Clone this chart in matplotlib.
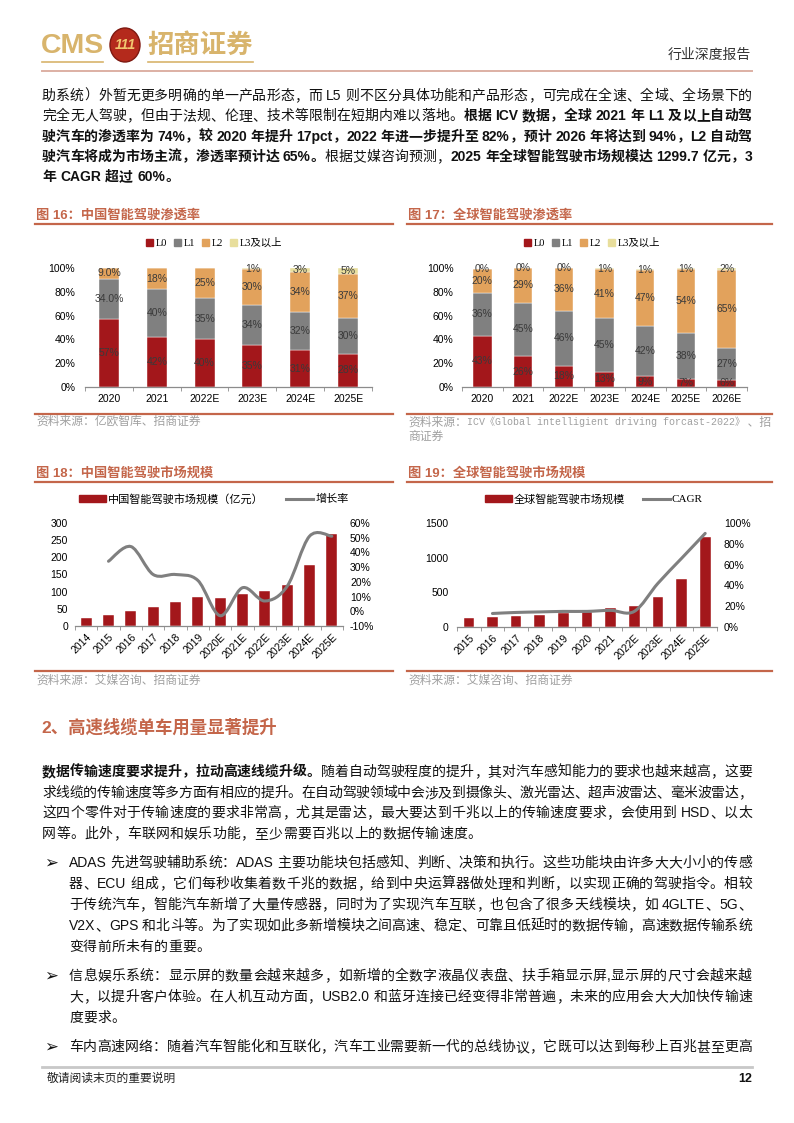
import re
import numpy as np
import matplotlib
matplotlib.use('Agg')
import matplotlib.pyplot as plt
from matplotlib.path import Path
from matplotlib.patches import PathPatch, Ellipse, Rectangle
from matplotlib.lines import Line2D

plt.rcParams['font.family'] = ['Liberation Sans', 'Noto Sans CJK SC', 'DejaVu Sans']

# ---- data ----
cn_years = ['2020', '2021', '2022E', '2023E', '2024E', '2025E']
cn_L0 = [57, 42, 40, 35, 31, 28]
cn_L1 = [34, 40, 35, 34, 32, 30]
cn_L2 = [9, 18, 25, 30, 34, 37]
cn_L3 = [0, 0, 0, 1, 3, 5]
cn_lab_L0 = ['57%', '42%', '40%', '35%', '31%', '28%']
cn_lab_L1 = ['34.0%', '40%', '35%', '34%', '32%', '30%']
cn_lab_L2 = ['9.0%', '18%', '25%', '30%', '34%', '37%']
cn_lab_L3 = ['', '', '', '1%', '3%', '5%']

gl_years = ['2020', '2021', '2022E', '2023E', '2024E', '2025E', '2026E']
gl_L0 = [43, 26, 18, 13, 9, 7, 6]
gl_L1 = [36, 45, 46, 45, 42, 38, 27]
gl_L2 = [20, 29, 36, 41, 47, 54, 65]
gl_L3 = [0, 0, 0, 1, 1, 1, 2]

cm_years = ['2014', '2015', '2016', '2017', '2018', '2019', '2020E', '2021E',
            '2022E', '2023E', '2024E', '2025E']
cm_size = [22, 31, 44, 56, 70, 85, 82, 94, 101, 119, 177, 268]
cm_growth = [None, 34, 44, 25, 25, 21, -3, 16, 7, 17, 51, 51]

gm_years = ['2015', '2016', '2017', '2018', '2019', '2020', '2021', '2022E',
            '2023E', '2024E', '2025E']
gm_size = [126, 140, 160, 180, 203, 218, 271, 310, 430, 692, 1299.7]
gm_cagr = [None, 13, 14, 14.5, 15, 15, 16, 15, 42, 66, 90]

RED = '#A3171B'
GRAY = '#808080'
ORANGE = '#E2A25C'
YELLOW = '#E8DE9C'
TERRA = '#C4664A'
GOLD = '#D8B46C'

W, H = 794, 1123
fig = plt.figure(figsize=(W / 100, H / 100), dpi=100)
renderer = fig.canvas.get_renderer()


def fx(x):
    return x / W


def fy(y):
    return 1 - y / H


def box(x0, y0, x1, y1):
    return [x0 / W, 1 - y1 / H, (x1 - x0) / W, (y1 - y0) / H]


def hline(x0, x1, y, color, lw):
    fig.add_artist(Line2D([fx(x0), fx(x1)], [fy(y), fy(y)], color=color,
                          lw=lw, transform=fig.transFigure))


def line(x0, x1, y, segs, justify=True, size=10, color='#111111'):
    # segs: list of (text, bold); lays tokens out one by one, justified
    toks = []
    for text, bold in segs:
        for t in re.findall(r' |[A-Za-z0-9.%\-]+|[^ A-Za-z0-9.%\-]', text):
            toks.append((t, bold))
    objs, widths = [], []
    for t, bold in toks:
        if t == ' ':
            objs.append(None)
            widths.append(3.5)
            continue
        o = fig.text(0, fy(y), t, fontsize=size, color=color, va='center',
                     ha='left', fontweight='bold' if bold else 'normal')
        objs.append(o)
        widths.append(o.get_window_extent(renderer).width)
    gap = 0.3
    if justify and len(toks) > 1:
        gap = (x1 - x0 - sum(widths)) / (len(toks) - 1)
    x = x0
    for o, w in zip(objs, widths):
        if o is not None:
            o.set_x(fx(x))
        x += w + gap


def runs(x0, y, pieces, color):
    # pieces: (text, size, family) placed one after another
    x = x0
    for text, size, fam in pieces:
        o = fig.text(fx(x), fy(y), text, fontsize=size, color=color, va='center',
                     ha='left', family=fam)
        x += o.get_window_extent(renderer).width


def smooth(ax, xs, ys, color, lw):
    pts = np.array(list(zip(xs, ys)), dtype=float)
    n = len(pts)
    verts = [tuple(pts[0])]
    codes = [Path.MOVETO]
    for i in range(n - 1):
        p0 = pts[i - 1] if i > 0 else pts[i]
        p1, p2 = pts[i], pts[i + 1]
        p3 = pts[i + 2] if i + 2 < n else pts[i + 1]
        verts += [tuple(p1 + (p2 - p0) / 6), tuple(p2 - (p3 - p1) / 6), tuple(p2)]
        codes += [Path.CURVE4] * 3
    ax.add_patch(PathPatch(Path(verts, codes), fc='none', ec=color, lw=lw,
                           capstyle='round', zorder=5))


def style_bottom(ax, n):
    for s in ['left', 'right', 'top']:
        ax.spines[s].set_visible(False)
    ax.spines['bottom'].set_color('#8C8C8C')
    ax.spines['bottom'].set_linewidth(0.9)
    ax.set_xticks(np.arange(-0.5, n, 1.0), minor=True)
    ax.tick_params(axis='x', which='minor', length=3, color='#8C8C8C')
    ax.tick_params(axis='x', which='major', length=0)
    ax.tick_params(axis='y', length=0)


def stacked(rect, cats, layers, labels, width, ypad):
    ax = fig.add_axes(rect)
    n = len(cats)
    x = np.arange(n)
    bottom = np.zeros(n)
    for vals, col, labs in zip(layers, [RED, GRAY, ORANGE, YELLOW], labels):
        vals = np.array(vals, dtype=float)
        ax.bar(x, vals, width, bottom=bottom, color=col, edgecolor='white',
               linewidth=0.3)
        for xi, v, b, lab in zip(x, vals, bottom, labs):
            if lab:
                ax.text(xi, b + v / 2, lab, ha='center', va='center',
                        fontsize=7.5, color='#3A3A3A')
        bottom += vals
    ax.set_xlim(-0.5, n - 0.5)
    ax.set_ylim(0, 100)
    ax.set_yticks([0, 20, 40, 60, 80, 100])
    ax.set_yticklabels(['0%', '20%', '40%', '60%', '80%', '100%'], fontsize=7.5)
    ax.set_xticks(x)
    ax.set_xticklabels(cats, fontsize=7.5)
    style_bottom(ax, n)
    ax.tick_params(axis='y', pad=ypad)
    ax.tick_params(axis='x', pad=5)
    return ax


# ---- header ----
fig.text(fx(41), fy(46), 'CMS', fontsize=20.5, fontweight='bold', color=GOLD,
         va='center', ha='left')
fig.add_artist(Ellipse((fx(125), fy(45)), 30 / W, 34 / H, transform=fig.transFigure,
                       fc='#B42A1C', ec='#7E1810', lw=1))
fig.text(fx(125), fy(45), '111', fontsize=10, fontweight='bold', style='italic',
         color='#F1C770', ha='center', va='center')
fig.text(fx(147), fy(45), '招商证券', fontsize=19, fontweight='bold', color=GOLD,
         va='center', ha='left', family=['Noto Sans CJK SC'])
hline(42, 103, 62, GOLD, 1.2)
hline(148, 253, 62, GOLD, 1.2)
fig.text(fx(751), fy(55), '行业深度报告', fontsize=10, color='#333333',
         ha='right', va='center')
hline(42, 752, 71, '#DDB0A4', 1.4)

# ---- top paragraph ----
L, R = 42, 752
line(L, R, 96, [('助系统）外暂无更多明确的单一产品形态，而 L5 则不区分具体功能和产品形态，可完成在全速、全域、全场景下的', False)])
line(L, R, 116, [('完全无人驾驶，但由于法规、伦理、技术等限制在短期内难以落地。', False),
                 ('根据 ICV 数据，全球 2021 年 L1 及以上自动驾', True)])
line(L, R, 137, [('驶汽车的渗透率为 74%，较 2020 年提升 17pct，2022 年进一步提升至 82%，预计 2026 年将达到 94%，L2 自动驾', True)])
line(L, R, 157, [('驶汽车将成为市场主流，渗透率预计达 65%。', True), ('根据艾媒咨询预测，', False),
                 ('2025 年全球智能驾驶市场规模达 1299.7 亿元，3', True)])
line(L, R, 177, [('年 CAGR 超过 60%。', True)], justify=False)

# ---- figure titles / rules ----
for x0, x1, y, title in [(35, 393, 215, '图 16：中国智能驾驶渗透率'),
                         (407, 772, 215, '图 17：全球智能驾驶渗透率'),
                         (35, 393, 473, '图 18：中国智能驾驶市场规模'),
                         (407, 772, 473, '图 19：全球智能驾驶市场规模')]:
    fig.text(fx(x0 + 1), fy(y), title, fontsize=9.5, fontweight='bold', color=TERRA,
             ha='left', va='center')
    hline(x0, x1, y + 9, TERRA, 1.6)
    hline(x0, x1, y + 199 if y < 300 else y + 198, TERRA, 1.6)

src_col = '#A0A0A0'
cjk = ['Noto Sans CJK SC']
mono = ['Liberation Mono', 'Noto Sans CJK SC']
fig.text(fx(36), fy(422), '资料来源：亿欧智库、招商证券', fontsize=8.5, color=src_col,
         va='center')
runs(408, 422, [('资料来源：', 8.5, cjk),
                ('ICV《Global intelligient driving forcast-2022》', 7.2, mono),
                (' 、招', 8.5, cjk)], src_col)
fig.text(fx(408), fy(437), '商证券', fontsize=8.5, color=src_col, va='center')
fig.text(fx(36), fy(681), '资料来源：艾媒咨询、招商证券', fontsize=8.5, color=src_col,
         va='center')
fig.text(fx(408), fy(681), '资料来源：艾媒咨询、招商证券', fontsize=8.5, color=src_col,
         va='center')

# ---- chart 16 ----
stacked(box(85, 268, 372, 387), cn_years, [cn_L0, cn_L1, cn_L2, cn_L3],
        [cn_lab_L0, cn_lab_L1, cn_lab_L2, cn_lab_L3], 0.42, 7)
leg_font = {'family': ['Liberation Serif', 'Noto Sans CJK SC'], 'size': 7.5}
handles = [Rectangle((0, 0), 1, 1, color=c) for c in [RED, GRAY, ORANGE, YELLOW]]
names = ['L0', 'L1', 'L2', 'L3及以上']
fig.legend(handles, names, loc='center', bbox_to_anchor=(fx(214), fy(243)), ncol=4,
           frameon=False, prop=leg_font, handlelength=0.7, handleheight=0.7,
           handletextpad=0.2, columnspacing=0.7, borderpad=0)

# ---- chart 17 ----
gl_labs = [[f'{v}%' for v in layer] for layer in [gl_L0, gl_L1, gl_L2, gl_L3]]
stacked(box(462, 268, 747, 387), gl_years, [gl_L0, gl_L1, gl_L2, gl_L3],
        gl_labs, 0.45, 6)
fig.legend(handles, names, loc='center', bbox_to_anchor=(fx(592), fy(243)), ncol=4,
           frameon=False, prop=leg_font, handlelength=0.7, handleheight=0.7,
           handletextpad=0.2, columnspacing=0.7, borderpad=0)


# ---- charts 18 / 19 ----
def market(rect, cats, sizes, rates, ylim, yticks, rlim, rticks, width, pad_l, pad_r):
    ax = fig.add_axes(rect)
    n = len(cats)
    x = np.arange(n)
    ax.bar(x, sizes, width, color=RED, edgecolor='white', linewidth=0.3)
    ax.set_xlim(-0.5, n - 0.5)
    ax.set_ylim(*ylim)
    ax.set_yticks(yticks)
    ax.set_yticklabels([str(t) for t in yticks], fontsize=7.5)
    ax.set_xticks(x)
    ax.set_xticklabels(cats, fontsize=7.5, rotation=45, ha='right',
                       rotation_mode='anchor')
    style_bottom(ax, n)
    ax.tick_params(axis='y', pad=pad_l)
    ax.tick_params(axis='x', pad=4)
    ax2 = ax.twinx()
    ax2.set_ylim(*rlim)
    ax2.set_yticks(rticks)
    ax2.set_yticklabels([f'{t}%' for t in rticks], fontsize=7.5)
    ax2.tick_params(axis='y', length=0, pad=pad_r)
    for s in ax2.spines.values():
        s.set_visible(False)
    xs = [i for i, r in enumerate(rates) if r is not None]
    ys = [r for r in rates if r is not None]
    smooth(ax2, xs, ys, '#7F7F7F', 2.2)
    return ax


market(box(75, 523, 343, 626), cm_years, cm_size, cm_growth, (0, 300),
       [0, 50, 100, 150, 200, 250, 300], (-10, 60),
       [-10, 0, 10, 20, 30, 40, 50, 60], 0.48, 5, 5)
market(box(457, 523, 717, 627), gm_years, gm_size, gm_cagr, (0, 1500),
       [0, 500, 1000, 1500], (0, 100), [0, 20, 40, 60, 80, 100], 0.45, 6, 5)

sans_font = {'family': ['Liberation Sans', 'Noto Sans CJK SC'], 'size': 8}
serif_font = {'family': ['Liberation Serif', 'Noto Sans CJK SC'], 'size': 8}
h_bar = Rectangle((0, 0), 1, 1, color=RED)
h_line = Line2D([0], [0], color='#7F7F7F', lw=2.2)
fig.legend([h_bar, h_line], ['中国智能驾驶市场规模（亿元）', '增长率'], loc='center',
           bbox_to_anchor=(fx(214), fy(499)), ncol=2, frameon=False, prop=sans_font,
           handlelength=2.4, handleheight=0.5, handletextpad=0.2, columnspacing=2.0,
           borderpad=0)
fig.legend([h_bar, h_line], ['全球智能驾驶市场规模', 'CAGR'], loc='center',
           bbox_to_anchor=(fx(594), fy(499)), ncol=2, frameon=False, prop=serif_font,
           handlelength=2.4, handleheight=0.5, handletextpad=0.2, columnspacing=1.6,
           borderpad=0)

# ---- section 2 ----
fig.text(fx(41), fy(727), '2、高速线缆单车用量显著提升', fontsize=12.5, fontweight='bold',
         color=TERRA, va='center', ha='left')

line(L, R, 772, [('数据传输速度要求提升，拉动高速线缆升级。', True),
                 ('随着自动驾驶程度的提升，其对汽车感知能力的要求也越来越高，这要', False)])
line(L, R, 793, [('求线缆的传输速度等多方面有相应的提升。在自动驾驶领域中会涉及到摄像头、激光雷达、超声波雷达、毫米波雷达，', False)])
line(L, R, 813, [('这四个零件对于传输速度的要求非常高，尤其是雷达，最大要达到千兆以上的传输速度要求，会使用到 HSD、以太', False)])
line(L, R, 834, [('网等。此外，车联网和娱乐功能，至少需要百兆以上的数据传输速度。', False)], justify=False)

BL = 69
bullets = [
    (863, ['ADAS 先进驾驶辅助系统：ADAS 主要功能块包括感知、判断、决策和执行。这些功能块由许多大大小小的传感',
           '器、ECU 组成，它们每秒收集着数千兆的数据，给到中央运算器做处理和判断，以实现正确的驾驶指令。相较',
           '于传统汽车，智能汽车新增了大量传感器，同时为了实现汽车互联，也包含了很多天线模块，如 4GLTE、5G、',
           'V2X、GPS 和北斗等。为了实现如此多新增模块之间高速、稳定、可靠且低延时的数据传输，高速数据传输系统',
           '变得前所未有的重要。']),
    (976, ['信息娱乐系统：显示屏的数量会越来越多，如新增的全数字液晶仪表盘、扶手箱显示屏,显示屏的尺寸会越来越',
           '大，以提升客户体验。在人机互动方面，USB2.0 和蓝牙连接已经变得非常普遍，未来的应用会大大加快传输速',
           '度要求。']),
    (1047, ['车内高速网络：随着汽车智能化和互联化，汽车工业需要新一代的总线协议，它既可以达到每秒上百兆甚至更高']),
]
for y0, rows in bullets:
    fig.text(fx(44), fy(y0), '➢', fontsize=12, family=['DejaVu Sans'], va='center',
             color='#111111')
    for i, row in enumerate(rows):
        last = (i == len(rows) - 1) and len(rows) > 1
        line(BL, R, y0 + i * 21, [(row, False)], justify=not last)

# ---- footer ----
hline(42, 752, 1067, '#C8C8C8', 2)
fig.text(fx(47), fy(1079), '敬请阅读末页的重要说明', fontsize=8.5, color='#222222',
         va='center')
fig.text(fx(752), fy(1079), '12', fontsize=9, fontweight='bold', color='#111111',
         va='center', ha='right')

fig.savefig('out.png', dpi=100)
